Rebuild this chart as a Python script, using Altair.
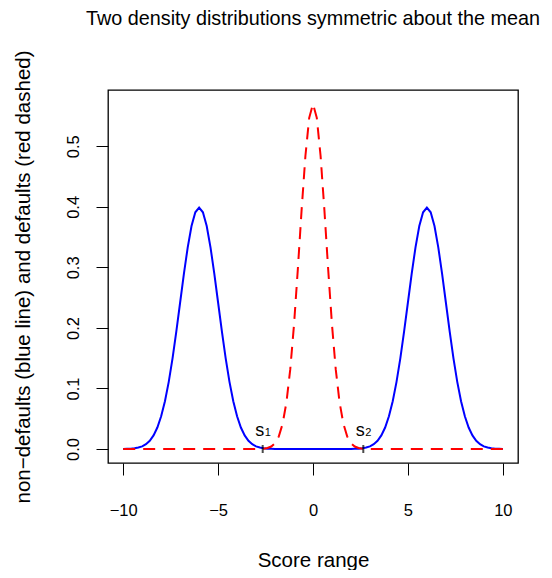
import altair as alt
import pandas as pd

# score grid (x) read along the horizontal axis
x_vals = [
    -10.0, -9.8, -9.6, -9.4, -9.2, -9.0, -8.8, -8.6, -8.4, -8.2,
    -8.0, -7.8, -7.6, -7.4, -7.2, -7.0, -6.8, -6.6, -6.4, -6.2,
    -6.0, -5.8, -5.6, -5.4, -5.2, -5.0, -4.8, -4.6, -4.4, -4.2,
    -4.0, -3.8, -3.6, -3.4, -3.2, -3.0, -2.8, -2.6, -2.4, -2.2,
    -2.0, -1.8, -1.6, -1.4, -1.2, -1.0, -0.8, -0.6, -0.4, -0.2,
    0.0, 0.2, 0.4, 0.6, 0.8, 1.0, 1.2, 1.4, 1.6, 1.8,
    2.0, 2.2, 2.4, 2.6, 2.8, 3.0, 3.2, 3.4, 3.6, 3.8,
    4.0, 4.2, 4.4, 4.6, 4.8, 5.0, 5.2, 5.4, 5.6, 5.8,
    6.0, 6.2, 6.4, 6.6, 6.8, 7.0, 7.2, 7.4, 7.6, 7.8,
    8.0, 8.2, 8.4, 8.6, 8.8, 9.0, 9.2, 9.4, 9.6, 9.8,
    10.0,
]

# non-defaults density (blue line)
nondefaults = [
    0.0001, 0.0003, 0.0006, 0.0012, 0.0024, 0.0044, 0.0079, 0.0136, 0.0224, 0.0355,
    0.0540, 0.0790, 0.1109, 0.1497, 0.1942, 0.2420, 0.2897, 0.3332, 0.3683, 0.3910,
    0.3989, 0.3910, 0.3683, 0.3332, 0.2897, 0.2420, 0.1942, 0.1497, 0.1109, 0.0790,
    0.0540, 0.0355, 0.0224, 0.0136, 0.0079, 0.0044, 0.0024, 0.0012, 0.0006, 0.0003,
    0.0001, 0.0, 0.0, 0.0, 0.0, 0.0, 0.0, 0.0, 0.0, 0.0,
    0.0, 0.0, 0.0, 0.0, 0.0, 0.0, 0.0, 0.0, 0.0, 0.0,
    0.0001, 0.0003, 0.0006, 0.0012, 0.0024, 0.0044, 0.0079, 0.0136, 0.0224, 0.0355,
    0.0540, 0.0790, 0.1109, 0.1497, 0.1942, 0.2420, 0.2897, 0.3332, 0.3683, 0.3910,
    0.3989, 0.3910, 0.3683, 0.3332, 0.2897, 0.2420, 0.1942, 0.1497, 0.1109, 0.0790,
    0.0540, 0.0355, 0.0224, 0.0136, 0.0079, 0.0044, 0.0024, 0.0012, 0.0006, 0.0003,
    0.0001,
]

# defaults density (red dashed)
defaults = [
    0.0, 0.0, 0.0, 0.0, 0.0, 0.0, 0.0, 0.0, 0.0, 0.0,
    0.0, 0.0, 0.0, 0.0, 0.0, 0.0, 0.0, 0.0, 0.0, 0.0,
    0.0, 0.0, 0.0, 0.0, 0.0, 0.0, 0.0, 0.0, 0.0, 0.0,
    0.0, 0.0, 0.0, 0.0, 0.0, 0.0001, 0.0002, 0.0006, 0.0016, 0.0041,
    0.0096, 0.0209, 0.0418, 0.0771, 0.1311, 0.2054, 0.2966, 0.3949, 0.4840, 0.5470,
    0.5699, 0.5470, 0.4840, 0.3949, 0.2966, 0.2054, 0.1311, 0.0771, 0.0418, 0.0209,
    0.0096, 0.0041, 0.0016, 0.0006, 0.0002, 0.0001, 0.0, 0.0, 0.0, 0.0,
    0.0, 0.0, 0.0, 0.0, 0.0, 0.0, 0.0, 0.0, 0.0, 0.0,
    0.0, 0.0, 0.0, 0.0, 0.0, 0.0, 0.0, 0.0, 0.0, 0.0,
    0.0, 0.0, 0.0, 0.0, 0.0, 0.0, 0.0, 0.0, 0.0, 0.0,
    0.0,
]

# cut-off scores s1, s2
s_pos = [-2.65, 2.65]
s_zero = [0.0, 0.0]
s_letters = ["s", "s"]
s_subs = ["1", "2"]

x_ticks = [-10, -5, 0, 5, 10]
y_ticks = [0.0, 0.1, 0.2, 0.3, 0.4, 0.5]

FONT = "Liberation Sans"
X_TITLE = "Score range"
Y_TITLE = "non\u2212defaults (blue line) and defaults (red dashed)"
MAIN = ["Two density distributions symmetric about the mean"]

df = pd.DataFrame({"x": x_vals, "nondef": nondefaults, "def": defaults})
sdf = pd.DataFrame({"pos": s_pos, "zero": s_zero, "let": s_letters, "sub": s_subs})
tdf = pd.DataFrame({"t": MAIN})

xs = alt.Scale(domain=[-10.8, 10.8], nice=False, zero=False)
ys = alt.Scale(domain=[-0.0231, 0.593], nice=False, zero=False)

xaxis = alt.Axis(
    values=x_ticks, format="d", title=X_TITLE,
    tickSize=12, labelPadding=40, labelBaseline="alphabetic",
    labelFontSize=16.5, labelFlush=False, labelOverlap=False,
    titleX=205, titleY=103.5, titleAlign="center", titleBaseline="alphabetic",
    titleFontSize=20.5,
)
yaxis = alt.Axis(
    values=y_ticks, format=".1f", title=Y_TITLE,
    tickSize=12, labelPadding=18, labelAngle=270, labelAlign="center",
    labelBaseline="alphabetic", labelFontSize=16.5, labelFlush=False,
    labelOverlap=False,
    titleX=-79, titleY=186.5, titleAngle=270, titleAlign="center",
    titleBaseline="alphabetic", titleFontSize=20.5,
)

base = alt.Chart(df)

blue = base.mark_line(color="#0000FF", strokeWidth=2).encode(
    x=alt.X("x:Q", scale=xs, axis=xaxis),
    y=alt.Y("nondef:Q", scale=ys, axis=yaxis),
)
red = base.mark_line(color="#FF0000", strokeWidth=2, strokeDash=[12, 8]).encode(
    x=alt.X("x:Q", scale=xs, axis=xaxis),
    y=alt.Y("def:Q", scale=ys, axis=yaxis),
)
sbase = alt.Chart(sdf).encode(
    x=alt.X("pos:Q", scale=xs, axis=xaxis),
    y=alt.Y("zero:Q", scale=ys, axis=yaxis),
)
ticks = sbase.mark_tick(color="black", thickness=2, size=8, orient="vertical")
letters = sbase.mark_text(
    font=FONT, fontSize=18, color="black", align="center",
    baseline="alphabetic", dx=-3, dy=-13,
).encode(text="let:N")
subs = sbase.mark_text(
    font=FONT, fontSize=11, color="black", align="center",
    baseline="alphabetic", dx=5, dy=-13,
).encode(text="sub:N")

# main title drawn as text above the plot box
main_title = alt.Chart(tdf).mark_text(
    font=FONT, fontSize=19.8, color="black", align="center",
    baseline="alphabetic",
).encode(
    x=alt.value(205),
    y=alt.value(-65),
    text="t:N",
)

chart = alt.layer(blue, red, ticks, letters, subs, main_title).properties(
    width=410,
    height=373,
    autosize=alt.AutoSizeParams(type="none"),
    padding={"left": 100, "top": 82, "right": 26, "bottom": 107},
).configure_view(
    stroke="black", strokeWidth=1.3,
).configure_axis(
    domain=False, grid=False, tickColor="black", tickWidth=1,
    labelColor="black", titleColor="black", labelFont=FONT, titleFont=FONT,
    titleFontWeight="normal",
)

chart.save("out.html", embed_options={"renderer": "svg", "actions": False})
